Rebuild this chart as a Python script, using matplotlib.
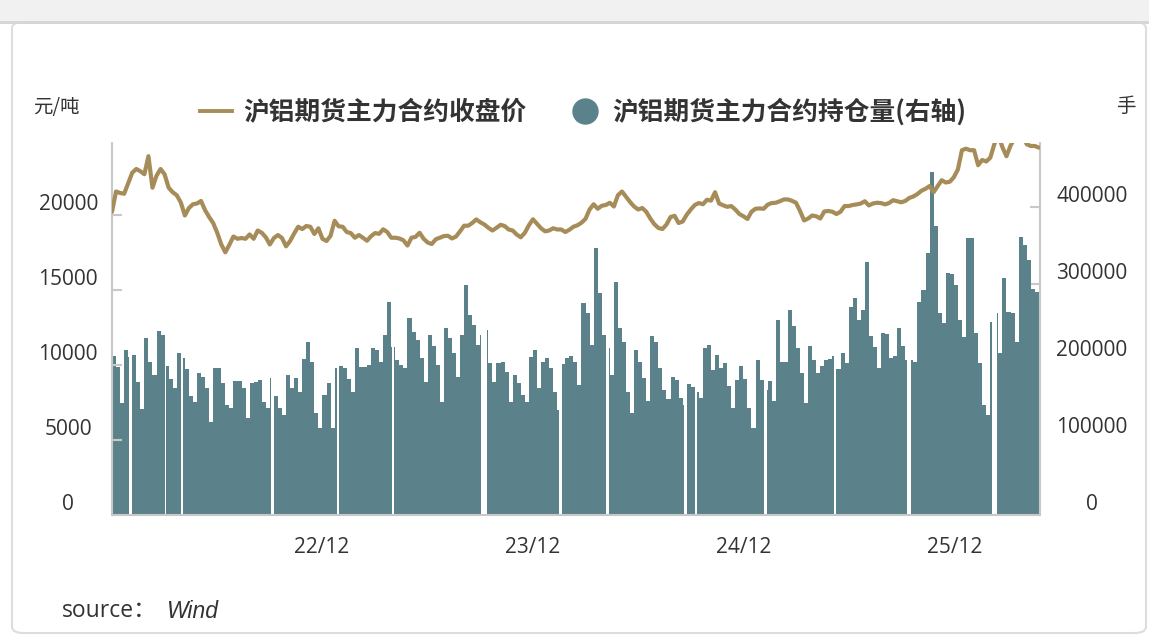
import numpy as np
import pandas as pd
import matplotlib
matplotlib.use("Agg")
import matplotlib.pyplot as plt
from matplotlib.lines import Line2D
from matplotlib.patches import FancyBboxPatch, Rectangle
from matplotlib.font_manager import FontProperties

# ---------------- data ----------------
week_start = "2022-01-03"

price = [
    20200, 21550, 21450, 21400, 22100, 22800, 23050, 22900, 22700, 23900,
    21800, 22600, 23050, 22690, 21800, 21500, 21300, 20820, 19950, 20450,
    20700, 20750, 20920, 20300, 19850, 19450, 18800, 18020, 17500, 18000,
    18550, 18400, 18450, 18400, 18690, 18400, 18950, 18800, 18500, 18020,
    18450, 18650, 18450, 17900, 18250, 18750, 19200, 19050, 19250, 19200,
    18720, 19100, 18400, 18250, 18600, 19600, 19230, 19200, 18850, 18780,
    18470, 18650, 18470, 18270, 18570, 18780, 18730, 19030, 18850, 18470,
    18470, 18420, 18300, 17950, 18470, 18530, 18800, 18400, 18150, 18050,
    18370, 18470, 18580, 18600, 18420, 18550, 18900, 19270, 19270, 19450,
    19690, 19500, 19350, 19130, 18950, 19130, 19330, 19250, 19020, 18950,
    18680, 18500, 18800, 19300, 19700, 19400, 19100, 18900, 18950, 19100,
    19020, 19020, 18850, 19000, 19200, 19300, 19470, 19730, 20350, 20700,
    20400, 20600, 20650, 20800, 20550, 21300, 21550, 21200, 20850, 20550,
    20350, 20450, 20200, 19750, 19370, 19120, 19050, 19350, 19850, 19930,
    19450, 19550, 20000, 20350, 20650, 20780, 20700, 21000, 20940, 21500,
    20750, 20630, 20530, 20580, 20350, 20050, 19900, 19720, 20200, 20400,
    20420, 20400, 20670, 20780, 20800, 20900, 21020, 21020, 20930, 20800,
    20250, 19620, 19750, 19950, 19900, 19750, 20220, 20250, 20200, 20050,
    20200, 20580, 20580, 20650, 20690, 20750, 20900, 20620, 20750, 20800,
    20780, 20690, 20780, 20970, 20900, 20830, 20920, 21120, 21220, 21380,
    21600, 21730, 21910, 21500, 21910, 22300, 22150, 22200, 22500, 23020,
    24300, 24400, 24300, 24300, 23300, 23650, 23550, 23800, 24700, 25300,
    24500, 23900, 24600, 25100, 25300, 25400, 24700, 24580, 24580, 24470,
]

open_interest = [
    206900, 192600, 145000, 214300, 205600, 207800, 173200, 137700, 229400, 199100,
    181800, 239000, 233800, 193900, 176600, 164500, 210000, 204300, 189600, 155000,
    147200, 184000, 179700, 165400, 121200, 190500, 191300, 171000, 142900, 138500,
    174000, 174000, 164500, 125500, 171000, 173200, 175300, 147200, 138500, 177500,
    155000, 138500, 129900, 181800, 164500, 178400, 160200, 202600, 225100, 199100,
    132000, 112600, 155800, 171000, 112600, 191300, 193900, 190500, 176600, 160200,
    216500, 192600, 192600, 194800, 217300, 214300, 199100, 233800, 277100, 218600,
    201300, 194800, 190500, 255400, 238100, 227300, 203500, 173200, 233800, 219900,
    194800, 147200, 242400, 229400, 210000, 179700, 233800, 298700, 259700, 246800,
    220800, 233800, 240300, 197000, 173200, 197000, 199100, 186100, 147200, 181800,
    171000, 155800, 147200, 205600, 214300, 164500, 199100, 203500, 190500, 160200,
    136400, 195700, 203500, 206900, 199100, 168800, 274900, 261900, 220800, 346300,
    287900, 233800, 216500, 181800, 303000, 242400, 225100, 160200, 132000, 214300,
    199100, 178400, 148000, 232900, 225100, 191300, 162300, 150600, 179700, 175300,
    152400, 142900, 170600, 166200, 160200, 151500, 217300, 220800, 188300, 207800,
    190500, 197000, 168000, 139400, 175300, 193900, 176600, 139400, 113400, 201300,
    175300, 162300, 174000, 148000, 253300, 199100, 199100, 266200, 245900, 217300,
    184000, 145000, 219900, 201300, 184000, 193900, 201300, 202600, 206900, 189200,
    210000, 197000, 270600, 282200, 253300, 266200, 329000, 232900, 218600, 191300,
    235900, 235500, 204300, 206900, 242400, 219900, 201300, 201300, 199100, 277100,
    292200, 340000, 445000, 375000, 261900, 248900, 313900, 312500, 298700, 253300,
    231600, 360000, 359300, 236000, 197000, 142900, 130000, 251100, 261900, 210000,
    308200, 264000, 261900, 225100, 361500, 350600, 331200, 293500, 290000, 261900,
]

# market closures (long holidays) -> white gaps in the open-interest bars
closed_periods = [
    ("2022-02-01", "2022-02-07"), ("2022-04-05", "2022-04-07"),
    ("2022-05-03", "2022-05-05"), ("2022-10-05", "2022-10-11"),
    ("2023-01-28", "2023-01-31"), ("2023-05-03", "2023-05-06"),
    ("2023-10-03", "2023-10-13"), ("2024-02-15", "2024-02-21"),
    ("2024-05-07", "2024-05-11"), ("2024-09-19", "2024-09-23"),
    ("2024-10-07", "2024-10-11"), ("2025-02-04", "2025-02-08"),
    ("2025-06-05", "2025-06-09"), ("2025-10-09", "2025-10-16"),
    ("2026-03-05", "2026-03-13"),
]

x_range = ("2022-01-03", "2026-05-27")
x_tick_dates = ["2022-12-31", "2023-12-31", "2024-12-31", "2025-12-31"]
x_tick_labels = ["22/12", "23/12", "24/12", "25/12"]
left_ticks = [0, 5000, 10000, 15000, 20000]
right_ticks = [0, 100000, 200000, 300000, 400000]
left_max = 24780
right_max = 483000
series_names = ["沪铝期货主力合约收盘价", "沪铝期货主力合约持仓量(右轴)"]
left_unit = "元/吨"
right_unit = "手"

# ---------------- style ----------------
BAR = "#5b828b"
LINE = "#a68c58"
TXT = "#333333"
AXC = "#c8c8c8"
NUM_FONT = ["Open Sans", "DejaVu Sans"]
CJK_FONT = ["Noto Sans CJK SC", "DejaVu Sans"]

plt.rcParams["font.family"] = NUM_FONT

W, H = 1149, 637
fig = plt.figure(figsize=(W / 100, H / 100), dpi=100)
fig.patch.set_facecolor("white")

# card frame (behind everything)
fig.patches.append(Rectangle((0, 1 - 21 / H), 1, 21 / H, transform=fig.transFigure,
                             facecolor="#f1f1f1", edgecolor="none", zorder=-10))
fig.patches.append(FancyBboxPatch((12 / W, 4 / H), 1134 / W, (H - 26) / H,
                                  boxstyle="round,pad=0,rounding_size=0.01",
                                  transform=fig.transFigure, facecolor="white",
                                  edgecolor="#dddddd", linewidth=1.5, zorder=-9))
fig.patches.append(Rectangle((0, 1 - 24 / H), 1, 3 / H, transform=fig.transFigure,
                             facecolor="#d6d6d6", edgecolor="none", zorder=-8))

ax = fig.add_axes([112 / W, 1 - 515 / H, 928 / W, 372 / H])
ax2 = ax.twinx()

dates = pd.date_range(week_start, periods=len(price), freq="7D")

ax2.bar(dates, open_interest, width=7, align="edge", color=BAR, linewidth=0, zorder=2,
        antialiased=False, label=series_names[1])
for s, e in closed_periods:
    ax2.axvspan(pd.Timestamp(s), pd.Timestamp(e), facecolor="white", linewidth=0,
                zorder=3, antialiased=False)

ax.plot(dates, price, color=LINE, lw=3.0, zorder=5, solid_joinstyle="round",
        solid_capstyle="round", label=series_names[0])

ax.set_zorder(ax2.get_zorder() + 1)
ax.patch.set_visible(False)

ax.set_xlim(pd.Timestamp(x_range[0]), pd.Timestamp(x_range[1]))
ax.set_ylim(0, left_max)
ax2.set_ylim(0, right_max)

ax.set_xticks([pd.Timestamp(d) for d in x_tick_dates])
ax.set_xticklabels(x_tick_labels)
ax.tick_params(axis="x", length=0, pad=15.5, labelsize=15, labelcolor=TXT)

ax.set_yticks(left_ticks)
ax.set_yticklabels([str(v) for v in left_ticks], ha="center", va="bottom")
ax.tick_params(axis="y", direction="in", length=7, width=1.5, color=AXC,
               labelsize=15, labelcolor=TXT, pad=31.5)
ax2.set_yticks(right_ticks)
ax2.set_yticklabels([str(v) for v in right_ticks], ha="center", va="bottom")
ax2.tick_params(axis="y", direction="in", length=7, width=1.5, color=AXC,
                labelsize=15, labelcolor=TXT, pad=37.5)

for a in (ax, ax2):
    a.spines["top"].set_visible(False)
ax.spines["right"].set_visible(False)
ax2.spines["left"].set_visible(False)
ax2.spines["bottom"].set_visible(False)
for sp in ("left", "bottom"):
    ax.spines[sp].set_color(AXC)
    ax.spines[sp].set_linewidth(1.5)
ax2.spines["right"].set_color(AXC)
ax2.spines["right"].set_linewidth(1.5)

# units
fig.text(56 / W, 1 - 107 / H, left_unit, ha="center", va="center", fontsize=14,
         color=TXT, family=CJK_FONT)
fig.text(1126 / W, 1 - 106 / H, right_unit, ha="center", va="center", fontsize=14,
         color=TXT, family=CJK_FONT)

# legend
handles = [Line2D([], [], color=LINE, lw=2.8),
           Line2D([], [], color=BAR, marker="o", markersize=18, linestyle="None")]
leg = fig.legend(handles, series_names, loc="center", bbox_to_anchor=(583 / W, 1 - 112 / H),
                 ncol=2, frameon=False, handlelength=1.24, handletextpad=0.43,
                 columnspacing=1.67, borderpad=0, borderaxespad=0,
                 prop=FontProperties(family=CJK_FONT, weight="bold", size=18.5))
for t in leg.get_texts():
    t.set_color(TXT)

# source
fig.text(62 / W, 1 - 611 / H, "source：", ha="left", va="center", fontsize=16.5,
         color=TXT, family=["Open Sans", "Noto Sans CJK SC", "DejaVu Sans"])
fig.text(166 / W, 1 - 611 / H, "Wind", ha="left", va="center", fontsize=16.5,
         color=TXT, family=["Liberation Sans", "DejaVu Sans"], style="italic")

fig.savefig("out.png", dpi=100)
